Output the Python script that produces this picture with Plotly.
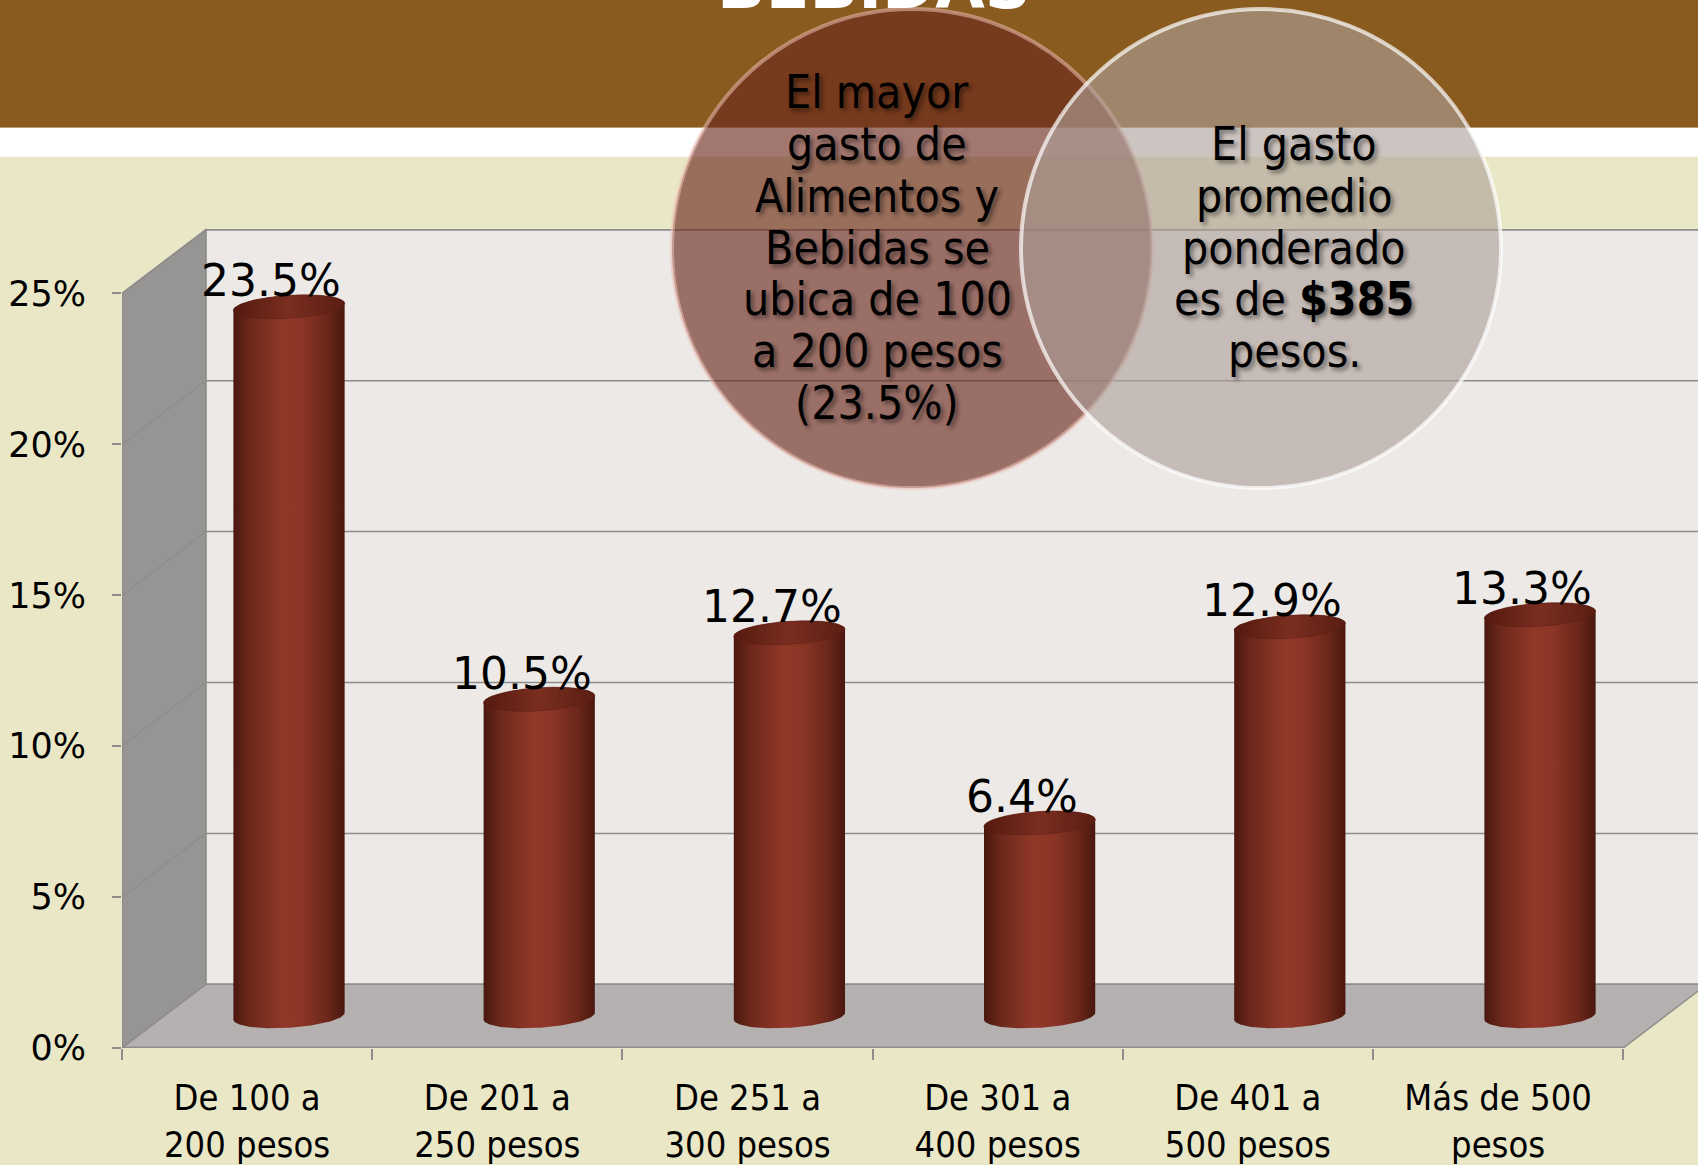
import numpy as np
import plotly.graph_objects as go

# ---------------- data ----------------
categories = ["De 100 a<br>200 pesos", "De 201 a<br>250 pesos", "De 251 a<br>300 pesos",
              "De 301 a<br>400 pesos", "De 401 a<br>500 pesos", "Más de 500<br>pesos"]
values = [23.5, 10.5, 12.7, 6.4, 12.9, 13.3]
y_ticks = [0, 5, 10, 15, 20, 25]
y_tick_labels = ["0%", "5%", "10%", "15%", "20%", "25%"]
left_note = ["El mayor", "gasto de", "Alimentos y", "Bebidas se", "ubica de 100", "a 200 pesos", "(23.5%)"]
right_note = ["El gasto", "promedio", "ponderado", "es de <b>$385</b>", "pesos."]
title_text = "BEBIDAS"

# ---------------- geometry / style ----------------
W, H = 1698, 1165
ML, MB = 122, 115
PW, PH = W - ML, H - MB
XMIN = -0.5
XMAX = -0.5 + PW / 250.2
YMAX = PH / 30.24
DX, DY = 0.335, 2.11          # oblique depth offset (x units, % units)
R, A = 0.213, 0.19            # cylinder radius (x units), depth radius fraction
N = len(values)

def ppx(x):
    return (x - ML) / PW

def ppy(y):
    return (PH - y) / PH

BEIGE = "#EAE7C6"
BROWN = "#8A5B1F"
GRID = "#8E8D8C"
SANS = "DejaVu Sans, Verdana, sans-serif"
COND = "DejaVu Sans Condensed, Liberation Sans Narrow, Arial Narrow, DejaVu Sans, sans-serif"

fig = go.Figure()

shapes = []
# header bands
shapes.append(dict(type="rect", xref="paper", yref="paper", x0=ppx(0), x1=ppx(W), y0=ppy(0), y1=ppy(128),
                   fillcolor=BROWN, line_width=0, layer="below"))
shapes.append(dict(type="rect", xref="paper", yref="paper", x0=ppx(0), x1=ppx(W), y0=ppy(128), y1=ppy(157),
                   fillcolor="white", line_width=0, layer="below"))

top = y_ticks[-1]
xl, xr = -0.5, N - 0.5
# back wall
shapes.append(dict(type="path", xref="x", yref="y", layer="below",
                   path=f"M{xl+DX},{DY} L{xr+DX+1},{DY} L{xr+DX+1},{top+DY} L{xl+DX},{top+DY} Z",
                   fillcolor="#ECE9E7", line=dict(color=GRID, width=1.5)))
# side wall
shapes.append(dict(type="path", xref="x", yref="y", layer="below",
                   path=f"M{xl},0 L{xl},{top} L{xl+DX},{top+DY} L{xl+DX},{DY} Z",
                   fillcolor="#979594", line=dict(color=GRID, width=1.5)))
# floor
shapes.append(dict(type="path", xref="x", yref="y", layer="below",
                   path=f"M{xl},0 L{xr},0 L{xr+DX},{DY} L{xl+DX},{DY} Z",
                   fillcolor="#B4B1B0", line=dict(color=GRID, width=1.5)))
# gridlines
for t in y_ticks[1:]:
    shapes.append(dict(type="line", xref="x", yref="y", layer="below",
                       x0=xl + DX, x1=xr + DX + 1, y0=t + DY, y1=t + DY, line=dict(color=GRID, width=1.5)))
    shapes.append(dict(type="line", xref="x", yref="y", layer="below",
                       x0=xl, x1=xl + DX, y0=t, y1=t + DY, line=dict(color=GRID, width=1.5)))
# front edges
shapes.append(dict(type="line", xref="x", yref="y", x0=xl, x1=xl, y0=0, y1=top, line=dict(color=GRID, width=2)))
shapes.append(dict(type="line", xref="x", yref="y", x0=xl, x1=xr, y0=0, y1=0, line=dict(color=GRID, width=3)))

# circles (callouts)
def circle(cx, cy, r, fill, rim):
    return dict(type="circle", xref="paper", yref="paper", layer="above",
                x0=ppx(cx - r), x1=ppx(cx + r), y0=ppy(cy + r), y1=ppy(cy - r),
                fillcolor=fill, line=dict(color=rim, width=4))

shapes.append(circle(912, 249, 240, "rgba(106,40,29,0.63)", "rgba(235,190,180,0.55)"))
shapes.append(circle(1261, 249, 240, "rgba(172,160,154,0.62)", "rgba(255,255,255,0.7)"))

# cylinders
tr = np.arctan2(A * DX, R)
tl = tr + np.pi
body_scale = [[0, "#4A170F"], [0.15, "#6C281B"], [0.45, "#913828"], [0.62, "#8B3526"],
              [0.85, "#6A271A"], [1, "#4A170F"]]

def ell(cx, cy, t):
    return cx + R * np.cos(t) + A * DX * np.sin(t), cy + A * DY * np.sin(t)

for i, v in enumerate(values):
    cx = i + DX / 2
    base = DY / 2
    topy = v + DY / 2
    tb = np.linspace(tl, tr + 2 * np.pi, 60)
    tt = np.linspace(tr, tl, 60)
    bx, by = ell(cx, base, tb)
    ux, uy = ell(cx, topy, tt)
    fig.add_trace(go.Scatter(x=np.concatenate([bx, ux]), y=np.concatenate([by, uy]),
                             fill="toself", mode="lines", line=dict(width=0),
                             fillgradient=dict(type="horizontal", colorscale=body_scale),
                             hoverinfo="skip", showlegend=False))
    ta = np.linspace(0, 2 * np.pi, 80)
    ex, ey = ell(cx, topy, ta)
    fig.add_trace(go.Scatter(x=ex, y=ey, fill="toself", mode="lines", line=dict(width=0.5, color="#5A1F14"),
                             fillgradient=dict(type="horizontal",
                                               colorscale=[[0, "#55190F"], [0.5, "#7A2E20"], [1, "#5A1D12"]]),
                             hoverinfo="skip", showlegend=False))

annotations = []
# data labels
for i, v in enumerate(values):
    annotations.append(dict(x=i + DX / 2 - 0.07, y=v + DY / 2, xref="x", yref="y", yshift=26,
                            text=f"{v:.1f}%", showarrow=False, yanchor="middle",
                            font=dict(family=SANS, size=44, color="black")))

shadow = "3px 3px 4px rgba(0,0,0,0.45)"
for k, line in enumerate(left_note):
    annotations.append(dict(x=ppx(877), y=ppy(92 + 52 * k), xref="paper", yref="paper", showarrow=False,
                            text=line, yanchor="middle", xanchor="center",
                            font=dict(family=COND, size=46, color="black", shadow=shadow)))
for k, line in enumerate(right_note):
    annotations.append(dict(x=ppx(1294), y=ppy(144 + 52 * k), xref="paper", yref="paper", showarrow=False,
                            text=line, yanchor="middle", xanchor="center",
                            font=dict(family=COND, size=46, color="black", shadow=shadow)))
# title (cut off at top, as in the original slide)
annotations.append(dict(x=ppx(874), y=ppy(25), xref="paper", yref="paper", showarrow=False,
                        text=f"<b>{title_text}</b>", yanchor="bottom", xanchor="center",
                        font=dict(family=SANS, size=64, color="white")))

fig.update_layout(
    width=W, height=H,
    margin=dict(l=ML, r=0, t=0, b=MB, pad=0),
    paper_bgcolor=BEIGE, plot_bgcolor=BEIGE,
    shapes=shapes, annotations=annotations, showlegend=False,
    xaxis=dict(range=[XMIN, XMAX], tickmode="array", tickvals=list(range(N)), ticktext=categories,
               ticks="", showgrid=False, zeroline=False, showline=False, fixedrange=True,
               tickfont=dict(family=COND, size=36, color="black"), ticklabelstandoff=25,
               minor=dict(tickmode="array", tickvals=[k - 0.5 for k in range(N + 1)], ticks="outside",
                          ticklen=11, tickwidth=1.5, tickcolor=GRID, showgrid=False)),
    yaxis=dict(range=[0, YMAX], tickmode="array", tickvals=y_ticks, ticktext=y_tick_labels,
               ticks="outside", ticklen=9, tickwidth=1.5, tickcolor=GRID,
               showgrid=False, zeroline=False, showline=False, fixedrange=True,
               tickfont=dict(family=SANS, size=35, color="black"), ticklabelstandoff=19),
)

fig.write_html("out.html", config={"displayModeBar": False},
               post_script="document.body.style.margin='0';")
